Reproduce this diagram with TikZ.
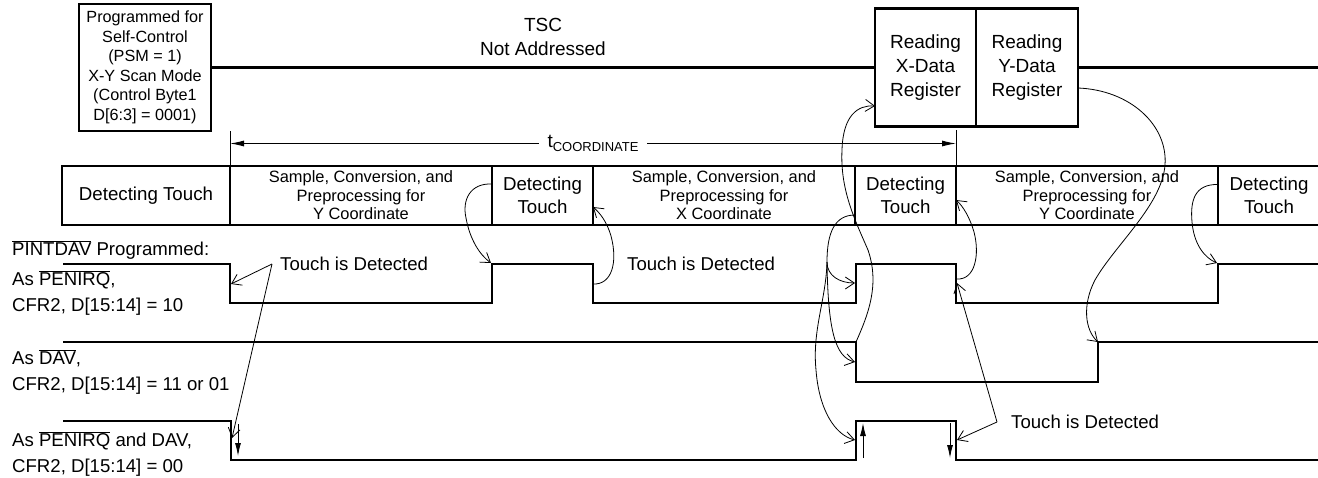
\documentclass[tikz,border=0pt]{standalone}
\usepackage{fontspec}
\setmainfont{Liberation Sans}
\usetikzlibrary{arrows.meta,positioning,calc}

\newcommand{\ovl}[1]{$\overline{\hbox{#1}}$}

\begin{document}
\begin{tikzpicture}[x=1pt, y=-1pt,
    box/.style={draw, line width=2.4pt, inner sep=0pt, outer sep=0pt, align=center},
    cell/.style={box, minimum height=59pt, font=\fontsize{18.7}{23}\selectfont},
    small/.style={font=\fontsize{16.4}{18.5}\selectfont},
    wave/.style={line width=2.4pt},
    guide/.style={line width=0.9pt},
    lbl/.style={font=\fontsize{18.6}{26}\selectfont, inner sep=0pt, anchor=west, align=left},
    arrow/.style={line width=0.8pt, -{Straight Barb[length=9pt,width=12pt]}},
    dim/.style={line width=0.9pt, {Latex[length=14pt,width=6pt]}-{Latex[length=14pt,width=6pt]}},
    edge/.style={line width=0.9pt, -{Latex[length=13pt,width=6pt]}}
]
\useasboundingbox (0,0) rectangle (1318,477);

% TSC line and register reads
\node[box, minimum width=132pt, minimum height=127pt, font=\fontsize{16.2}{19.5}\selectfont] (prog) at (145,67.5) {
    Programmed for\\Self-Control\\(PSM = 1)\\X-Y Scan Mode\\(Control Byte1\\D[6:3] = 0001)};
\node[align=center, font=\fontsize{19}{24}\selectfont] (tsc) at (543,37) {TSC\\Not Addressed};
\node[box, minimum width=101pt, minimum height=118pt, font=\fontsize{19}{24}\selectfont] (xreg) at (925.5,67.5) {Reading\\X-Data\\Register};
\node[box, minimum width=102pt, minimum height=118pt, font=\fontsize{19}{24}\selectfont] (yreg) at (1027,67.5) {Reading\\Y-Data\\Register};
\coordinate (tscend) at (1318,67.5);
\draw[wave] (prog.east) -- (xreg.west);
\draw[wave] (yreg.east) -- (tscend);

% activity row
\node[cell, minimum width=168pt] (c1) at (146,195.5) {Detecting Touch};
\node[cell, small, minimum width=262pt] (c2) at (361,195.5) {Sample, Conversion, and\\Preprocessing for\\Y Coordinate};
\node[cell, minimum width=101pt] (c3) at (542.5,195.5) {Detecting\\Touch};
\node[cell, small, minimum width=262pt] (c4) at (724,195.5) {Sample, Conversion, and\\Preprocessing for\\X Coordinate};
\node[cell, minimum width=101pt] (c5) at (905.5,195.5) {Detecting\\Touch};
\node[cell, small, minimum width=262pt] (c6) at (1087,195.5) {Sample, Conversion, and\\Preprocessing for\\Y Coordinate};
\node[cell, draw=none] (c7) at (1269,195.5) {Detecting\\Touch};
\coordinate (rowend1) at (1318,166);
\coordinate (rowend2) at (1318,225);
\draw[wave] (c6.north east) -- (rowend1);
\draw[wave] (c6.south east) -- (rowend2);

% t_COORDINATE
\draw[guide] (c2.north west) -- ++(0,-35);
\draw[guide] (c6.north west) -- ++(0,-36);
\coordinate (d0) at (230,143.5);
\coordinate (d1) at (956,143.5);
\draw[dim] (d0) -- node[fill=white, inner xsep=9pt, inner ysep=0pt] (tco)
    {\fontsize{19}{19}\selectfont t\raisebox{-4pt}{\fontsize{13}{13}\selectfont COORDINATE}} (d1);

% signal labels
\node[lbl] (pint) at (12,250) {\ovl{PINTDAV} Programmed:};
\node[lbl] (lpen) at (12,293) {As \ovl{PENIRQ},\\CFR2, D[15:14] = 10};
\node[lbl] (ldav) at (12,372) {As \ovl{DAV},\\CFR2, D[15:14] = 11 or 01};
\node[lbl] (lboth) at (12,454) {As \ovl{PENIRQ} and DAV,\\CFR2, D[15:14] = 00};

% waveforms
\draw[wave] (63,264) -- (230,264) -- (230,303) -- (492,303) -- (492,264) -- (593,264) -- (593,303)
    -- (856,303) -- (856,264) -- (956,264) -- (956,303) -- (1218,303) -- (1218,264) -- (1318,264);
\draw[wave] (63,342) -- (856,342) -- (856,382) -- (1098,382) -- (1098,342) -- (1318,342);
\draw[wave] (63,421) -- (231,421) -- (231,460) -- (856,460) -- (856,421) -- (956,421) -- (956,460) -- (1318,460);
\draw[edge] (238,424) -- (238,456);
\draw[edge] (863,458) -- (863,423);
\draw[edge] (950,423) -- (950,458);

% corners the arrows point at
\coordinate (pf1) at (231,284);
\coordinate (pb1) at (232,438);
\coordinate (pr1) at (491,263);
\coordinate (pf2) at (593,284);
\coordinate (split) at (827,262);
\coordinate (pr3) at (855,283);
\coordinate (df1) at (855,362);
\coordinate (pb2) at (855,440);
\coordinate (df0) at (856,342);
\coordinate (pf3) at (957,279);
\coordinate (pf4) at (957,283);
\coordinate (pb3) at (957,440);
\coordinate (dr1) at (1098,342);
\coordinate (pr4) at (1217,263);

% touch is detected
\node[lbl] (td1) at (280,264) {Touch is Detected};
\node[lbl] (td2) at (627,264) {Touch is Detected};
\node[lbl] (td3) at (1011,422) {Touch is Detected};
\draw[arrow] ([xshift=-8pt]td1.west) -- (pf1);
\draw[arrow] ([xshift=-8pt]td1.west) -- (pb1);
\draw[arrow] ([xshift=-14pt]td3.west) -- (pb3);
\draw[arrow] ([xshift=-14pt]td3.west) -- (pf4);

% cause and effect curves
\draw[arrow] ([yshift=11.5pt]c3.west) .. controls (470,183) and (462,200) .. (466,218)
    .. controls (470,240) and (480,255) .. (pr1);
\draw[arrow] (pf2) .. controls (612,285) and (618,262) .. (611,236)
    .. controls (607,222) and (600,213) .. ([yshift=-11.5pt]c4.west);
\draw[line width=0.8pt] ([yshift=-19.5pt]c5.west) .. controls (835,215) and (827,232) .. (split);
\draw[arrow] (split) .. controls (827,276) and (840,283) .. (pr3);
\draw[arrow] (split) .. controls (828,330) and (835,357) .. (df1);
\draw[arrow] (split) .. controls (826,300) and (812,330) .. (816,370)
    .. controls (819,410) and (835,435) .. (pb2);
\draw[arrow] (df0) .. controls (868,315) and (880,285) .. (868,250)
    .. controls (855,220) and (840,190) .. (842,150)
    .. controls (843,115) and (858,105) .. ([yshift=-38.5pt]xreg.west);
\draw[arrow] (pf3) .. controls (975,280) and (980,255) .. (974,232)
    .. controls (970,218) and (963,206) .. ([yshift=-4.5pt]c6.west);
\draw[arrow] ([yshift=-20.5pt]yreg.east) .. controls (1130,90) and (1168,125) .. (1165,165)
    .. controls (1162,205) and (1115,245) .. (1095,280)
    .. controls (1082,305) and (1085,330) .. (dr1);
\draw[arrow] ([yshift=11pt]c6.east) .. controls (1195,184) and (1190,200) .. (1192,222)
    .. controls (1194,245) and (1205,258) .. (pr4);

\end{tikzpicture}
\end{document}
